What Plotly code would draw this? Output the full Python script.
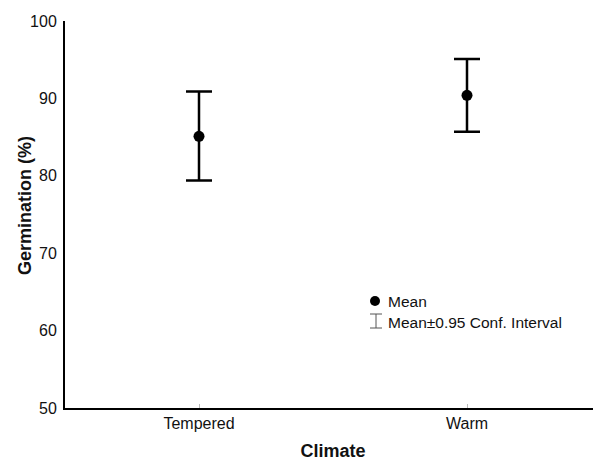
import plotly.graph_objects as go

categories = ["Tempered", "Warm"]
means = [85.1, 90.4]
upper = [90.9, 95.1]
lower = [79.4, 85.7]

# page body has an 8px margin, so the figure sits at (8, 8)
OFF = 8
W, H = 601 - OFF, 461 - OFF
L, R, T, B = 65 - OFF, 0, 21 - OFF, 53
pw, ph = W - L - R, H - T - B

def px(x):
    return (x - OFF - L) / pw

def py(y):
    return (H - B - (y - OFF)) / ph

FONT = "Liberation Sans, Arial"
xs = list(range(len(categories)))
fig = go.Figure()
fig.add_trace(go.Scatter(
    x=xs, y=means, mode="markers",
    marker=dict(color="black", size=11),
    error_y=dict(type="data", symmetric=False,
                 array=[u - m for u, m in zip(upper, means)],
                 arrayminus=[m - l for m, l in zip(means, lower)],
                 color="black", thickness=2.5, width=13),
    showlegend=False,
))

shapes = [
    dict(type="circle", xref="paper", yref="paper",
         x0=px(370), x1=px(380), y0=py(306), y1=py(296),
         fillcolor="black", line=dict(color="black", width=0)),
    dict(type="line", xref="paper", yref="paper", x0=px(370), x1=px(382), y0=py(314), y1=py(314),
         line=dict(color="#555", width=1)),
    dict(type="line", xref="paper", yref="paper", x0=px(370), x1=px(382), y0=py(328), y1=py(328),
         line=dict(color="#555", width=1)),
    dict(type="line", xref="paper", yref="paper", x0=px(376), x1=px(376), y0=py(314), y1=py(328),
         line=dict(color="#555", width=1)),
]
annotations = [
    dict(text="Mean", xref="paper", yref="paper", x=px(386), y=py(301),
         xanchor="left", yanchor="middle", showarrow=False,
         font=dict(size=15.5, color="#111", family=FONT)),
    dict(text="Mean±0.95 Conf. Interval", xref="paper", yref="paper", x=px(386), y=py(322),
         xanchor="left", yanchor="middle", showarrow=False,
         font=dict(size=15.5, color="#111", family=FONT)),
    dict(text="<b>Germination (%)</b>", xref="paper", yref="paper", x=px(25), y=py(206),
         xanchor="center", yanchor="middle", textangle=-90, showarrow=False,
         font=dict(size=18, color="#111", family=FONT)),
]

fig.update_layout(
    width=W, height=H,
    margin=dict(l=L, r=R, t=T, b=B, pad=0),
    plot_bgcolor="white", paper_bgcolor="white",
    font=dict(family=FONT, color="#111", size=16),
    shapes=shapes, annotations=annotations,
    xaxis=dict(range=[-0.5, 1.5], tickvals=xs, ticktext=categories,
               showline=True, linecolor="black", linewidth=2, showgrid=False,
               zeroline=False, ticks="inside", ticklen=4, tickcolor="#bbb",
               tickfont=dict(size=16),
               title=dict(text="<b>Climate</b>", font=dict(size=18), standoff=17)),
    yaxis=dict(range=[50, 100], tickvals=[50, 60, 70, 80, 90, 100],
               showline=True, linecolor="black", linewidth=2, showgrid=False,
               zeroline=False, ticks="outside", ticklen=3, tickcolor="rgba(0,0,0,0)",
               tickfont=dict(size=16)),
)

fig.write_html("out.html")
